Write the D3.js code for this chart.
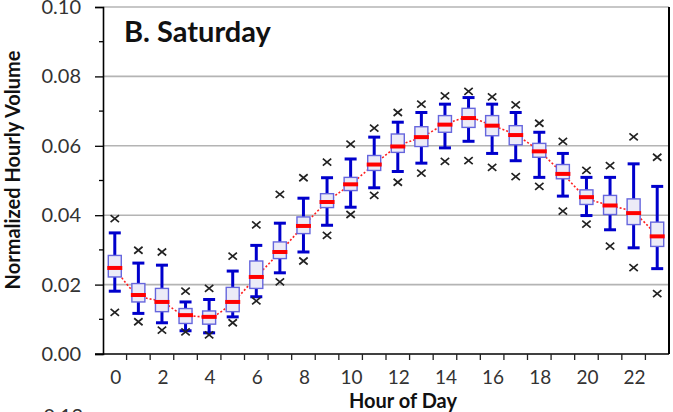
<!DOCTYPE html>
<html>
<head>
<meta charset="utf-8">
<script src="https://cdn.jsdelivr.net/npm/d3@7"></script>
<style>
  body { margin: 0; background: #fff; }
  text { font-family: Lato, "Open Sans", sans-serif; }
</style>
</head>
<body>
<div id="chart"></div>
<script>
var width = 673;
var height = 412;
var margin = {top: 7, right: 4, bottom: 58, left: 103};

// box plot values per hour
var hours = d3.range(0, 24);
var xLabels = [0, 2, 4, 6, 8, 10, 12, 14, 16, 18, 20, 22];
var yTicks = [0, 0.02, 0.04, 0.06, 0.08, 0.10];
var yMinor = [0.01, 0.03, 0.05, 0.07, 0.09];

var whiskerLow  = [0.0181, 0.0117, 0.0090, 0.0067, 0.0061, 0.0107, 0.0165, 0.0234, 0.0294, 0.0371, 0.0423, 0.0479,
                   0.0526, 0.0550, 0.0594, 0.0613, 0.0578, 0.0557, 0.0509, 0.0455, 0.0399, 0.0358, 0.0306, 0.0246];
var q1          = [0.0222, 0.0150, 0.0122, 0.0088, 0.0086, 0.0122, 0.0189, 0.0275, 0.0347, 0.0422, 0.0471, 0.0529,
                   0.0581, 0.0598, 0.0639, 0.0653, 0.0629, 0.0603, 0.0567, 0.0505, 0.0431, 0.0402, 0.0373, 0.0310];
var median      = [0.0248, 0.0170, 0.0150, 0.0112, 0.0107, 0.0150, 0.0222, 0.0294, 0.0369, 0.0438, 0.0489, 0.0546,
                   0.0598, 0.0625, 0.0661, 0.0680, 0.0658, 0.0631, 0.0584, 0.0519, 0.0452, 0.0428, 0.0406, 0.0339];
var q3          = [0.0284, 0.0203, 0.0189, 0.0131, 0.0124, 0.0192, 0.0268, 0.0323, 0.0395, 0.0462, 0.0509, 0.0572,
                   0.0634, 0.0655, 0.0687, 0.0708, 0.0687, 0.0658, 0.0607, 0.0546, 0.0473, 0.0457, 0.0447, 0.0380];
var whiskerHigh = [0.0349, 0.0262, 0.0256, 0.0150, 0.0157, 0.0239, 0.0313, 0.0377, 0.0449, 0.0508, 0.0562, 0.0625,
                   0.0668, 0.0696, 0.0720, 0.0739, 0.0720, 0.0696, 0.0639, 0.0578, 0.0509, 0.0509, 0.0548, 0.0483];
var outLow      = [0.0120, 0.0093, 0.0069, 0.0064, 0.0055, 0.0090, 0.0153, 0.0208, 0.0268, 0.0342, 0.0402, 0.0457,
                   0.0495, 0.0521, 0.0555, 0.0557, 0.0538, 0.0511, 0.0483, 0.0412, 0.0374, 0.0311, 0.0249, 0.0174];
var outHigh     = [0.0390, 0.0299, 0.0294, 0.0181, 0.0189, 0.0282, 0.0372, 0.0460, 0.0508, 0.0553, 0.0605, 0.0651,
                   0.0696, 0.0720, 0.0744, 0.0757, 0.0741, 0.0718, 0.0665, 0.0613, 0.0529, 0.0543, 0.0626, 0.0567];

var svg = d3.select("#chart")
    .append("svg")
    .attr("width", width)
    .attr("height", height);

var w = width - margin.left - margin.right;
var h = height - margin.top - margin.bottom;

var g = svg.append("g").attr("transform", "translate(" + margin.left + "," + margin.top + ")");

var x = d3.scaleBand()
    .domain(hours)
    .range([0, w])
    .padding(0);

var y = d3.scaleLinear()
    .domain([0, 0.10])
    .range([h, 0]);

var cx = function(i) { return x(hours[i]) + x.bandwidth() / 2; };

// gridlines
g.selectAll(".grid")
  .data(yTicks.slice(1))
  .enter().append("line")
    .attr("class", "grid")
    .attr("x1", 0)
    .attr("x2", w)
    .attr("y1", function(d) { return y(d); })
    .attr("y2", function(d) { return y(d); })
    .attr("stroke", "#b4b4b4")
    .attr("stroke-width", 1.6);

// right border
g.append("line")
    .attr("x1", w).attr("x2", w)
    .attr("y1", 0).attr("y2", h)
    .attr("stroke", "#000")
    .attr("stroke-width", 2);

// y axis
var yAxis = g.append("g")
    .call(d3.axisLeft(y).tickValues(yTicks).tickSize(8).tickPadding(14).tickFormat(d3.format(".2f")));
yAxis.select(".domain").attr("stroke", "#000").attr("stroke-width", 1.6);
yAxis.selectAll(".tick line").attr("stroke", "#000").attr("stroke-width", 1.3);
yAxis.selectAll(".tick text")
    .attr("fill", "#333")
    .style("font-size", "20px")
    .style("font-family", "Lato, sans-serif");

g.selectAll(".minor")
  .data(yMinor)
  .enter().append("line")
    .attr("class", "minor")
    .attr("x1", -4).attr("x2", 0)
    .attr("y1", function(d) { return y(d); })
    .attr("y2", function(d) { return y(d); })
    .attr("stroke", "#000")
    .attr("stroke-width", 1.3);

// x axis: ticks at hour boundaries, labels under even hours
g.append("line")
    .attr("x1", -8).attr("x2", w)
    .attr("y1", h).attr("y2", h)
    .attr("stroke", "#000")
    .attr("stroke-width", 1.6);

g.selectAll(".xtick")
  .data(hours.slice(1))
  .enter().append("line")
    .attr("class", "xtick")
    .attr("x1", function(d) { return x(d); })
    .attr("x2", function(d) { return x(d); })
    .attr("y1", h).attr("y2", h + 6)
    .attr("stroke", "#222")
    .attr("stroke-width", 1.3);

g.selectAll(".xlab")
  .data(xLabels)
  .enter().append("text")
    .attr("class", "xlab")
    .attr("x", function(d) { return x(d) + x.bandwidth() / 2 + 1; })
    .attr("y", h + 30)
    .attr("text-anchor", "middle")
    .attr("fill", "#333")
    .style("font-size", "19px")
    .text(function(d) { return d; });

// red dotted line through medians
var line = d3.line()
    .x(function(d, i) { return cx(i); })
    .y(function(d) { return y(d); })
    .curve(d3.curveMonotoneX);

g.append("path")
    .datum(median)
    .attr("fill", "none")
    .attr("stroke", "#ff2020")
    .attr("stroke-width", 1.6)
    .attr("stroke-dasharray", "2,2")
    .attr("d", line);

var box = g.selectAll(".box")
  .data(hours)
  .enter().append("g")
    .attr("class", "box");

// whiskers
box.append("line")
    .attr("x1", function(d, i) { return cx(i); })
    .attr("x2", function(d, i) { return cx(i); })
    .attr("y1", function(d, i) { return y(whiskerLow[i]); })
    .attr("y2", function(d, i) { return y(q1[i]); })
    .attr("stroke", "#0000cc")
    .attr("stroke-width", 3);

box.append("line")
    .attr("x1", function(d, i) { return cx(i); })
    .attr("x2", function(d, i) { return cx(i); })
    .attr("y1", function(d, i) { return y(whiskerHigh[i]); })
    .attr("y2", function(d, i) { return y(q3[i]); })
    .attr("stroke", "#0000cc")
    .attr("stroke-width", 3);

// whisker caps
[whiskerLow, whiskerHigh].forEach(function(arr) {
  box.append("line")
      .attr("x1", function(d, i) { return cx(i) - 6; })
      .attr("x2", function(d, i) { return cx(i) + 6; })
      .attr("y1", function(d, i) { return y(arr[i]); })
      .attr("y2", function(d, i) { return y(arr[i]); })
      .attr("stroke", "#0000cc")
      .attr("stroke-width", 3);
});

// boxes
box.append("rect")
    .attr("x", function(d, i) { return cx(i) - 6.5; })
    .attr("y", function(d, i) { return y(q3[i]); })
    .attr("width", 13)
    .attr("height", function(d, i) { return y(q1[i]) - y(q3[i]); })
    .attr("fill", "#ecebf7")
    .attr("stroke", "#6666dd")
    .attr("stroke-width", 1.4);

// medians
box.append("line")
    .attr("x1", function(d, i) { return cx(i) - 7.5; })
    .attr("x2", function(d, i) { return cx(i) + 7.5; })
    .attr("y1", function(d, i) { return y(median[i]); })
    .attr("y2", function(d, i) { return y(median[i]); })
    .attr("stroke", "#ff0000")
    .attr("stroke-width", 4);

// outliers (x marks)
[outLow, outHigh].forEach(function(arr) {
  box.append("path")
      .attr("transform", function(d, i) { return "translate(" + cx(i) + "," + y(arr[i]) + ")"; })
      .attr("d", "M-4.2,-3.5L4.2,3.5M-4.2,3.5L4.2,-3.5")
      .attr("stroke", "#222")
      .attr("stroke-width", 1.7)
      .attr("fill", "none");
});

// titles
g.append("text")
    .attr("x", 21)
    .attr("y", 35)
    .attr("fill", "#111")
    .style("font-size", "29px")
    .style("font-weight", "bold")
    .text("B. Saturday");

svg.append("text")
    .attr("x", 403)
    .attr("y", 408)
    .attr("text-anchor", "middle")
    .attr("fill", "#111")
    .style("font-size", "20px")
    .style("font-weight", "bold")
    .text("Hour of Day");

svg.append("text")
    .attr("transform", "translate(20,170) rotate(-90)")
    .attr("text-anchor", "middle")
    .attr("fill", "#111")
    .style("font-size", "20px")
    .style("font-weight", "bold")
    .text("Normalized Hourly Volume");

// top of the next panel's label, cut off by the frame
svg.append("text")
    .attr("x", 83)
    .attr("y", 423)
    .attr("text-anchor", "end")
    .attr("fill", "#333")
    .style("font-size", "20px")
    .text("0.12");
</script>
</body>
</html>
